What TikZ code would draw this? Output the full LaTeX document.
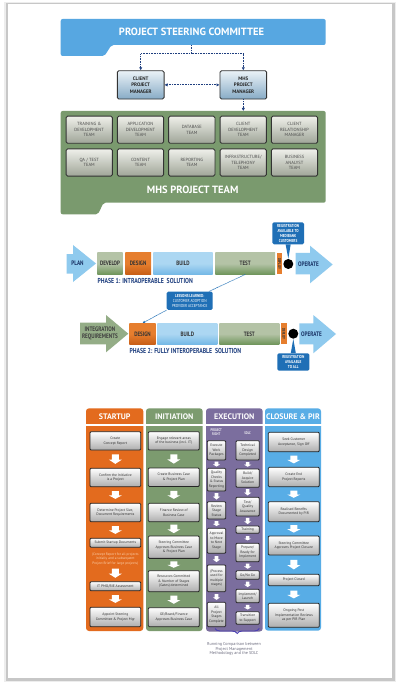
\documentclass[tikz,border=0pt]{standalone}
\usepackage{fontspec}
\setmainfont{PT Sans}
\newfontfamily\condf[FakeStretch=0.8]{PT Sans}
\usetikzlibrary{calc,arrows.meta,decorations.pathreplacing}
\newcommand\fsz[2]{\fontsize{#1}{#2}\selectfont}
\definecolor{steer}{HTML}{57A7E1}
\definecolor{navy}{HTML}{1F3F7F}
\definecolor{teamg}{HTML}{7A9A6E}
\definecolor{pmtop}{HTML}{EAF2F7}
\definecolor{pmbot}{HTML}{87ABC6}
\definecolor{tmtop}{HTML}{EFF0EA}
\definecolor{tmbot}{HTML}{9FA598}
\definecolor{sageT}{HTML}{B4C3A6}
\definecolor{sageB}{HTML}{6F955B}
\definecolor{orT}{HTML}{E67E2E}
\definecolor{orB}{HTML}{C85E16}
\definecolor{bluT}{HTML}{ACD7F2}
\definecolor{bluB}{HTML}{74B8E6}
\definecolor{arrb}{HTML}{8FCAEE}
\definecolor{arrg}{HTML}{94AD87}
\definecolor{callb}{HTML}{1F6FB6}
\definecolor{startc}{HTML}{E36B1E}
\definecolor{initc}{HTML}{7C9B6F}
\definecolor{execc}{HTML}{7B6E9E}
\definecolor{closc}{HTML}{58ADE6}
\definecolor{bracec}{HTML}{4B3FB2}
\definecolor{capc}{HTML}{6E6E80}
\definecolor{notec}{HTML}{FAD0AC}
% white block arrow between two nodes: from, to, half stem, half head, gap
\newcommand\wda[5]{\fill[white] let \p1=(#1.south), \p2=(#2.north),
  \n1={\y1-#5}, \n2={\y2+#5}, \n3={0.45*\n1+0.55*\n2} in
  (\x1-#3,\n1) -- (\x1+#3,\n1) -- (\x1+#3,\n3) -- (\x1+#4,\n3) -- (\x1,\n2)
  -- (\x1-#4,\n3) -- (\x1-#3,\n3) -- cycle;}
\tikzset{
  dotc/.style={draw=navy, line width=1pt, dash pattern=on 0.9pt off 0.7pt},
  title/.style={text=white, font=\bfseries\fsz{10.5}{12}, inner sep=0},
  pmbox/.style={draw=black!80, line width=0.9pt, rounded corners=1.5pt,
    top color=pmtop, bottom color=pmbot, minimum width=46.7pt, minimum height=28.3pt,
    inner sep=0, align=center, font=\bfseries\fsz{5}{6.6}, text=black!85},
  tmbox/.style={draw=black!80, line width=0.9pt, rounded corners=1.5pt,
    top color=tmtop, bottom color=tmbot, minimum width=46.3pt, minimum height=27.2pt,
    inner sep=0, align=center, font=\fsz{4.5}{5.6}, text=black!70},
  seg/.style={inner sep=0, minimum height=21.6pt, font=\condf\bfseries\fsz{6.3}{7}, text=black!80},
  gseg/.style={seg, top color=sageT, bottom color=sageB, middle color=sageT},
  oseg/.style={seg, top color=orT, bottom color=orB, middle color=orT},
  bseg/.style={seg, top color=bluT, bottom color=bluB, middle color=bluT},
  dseg/.style={inner sep=0, fill=orT, font=\condf\bfseries\fsz{4}{4}, text=black!80, rotate=-90},
  dotn/.style={circle, fill=black, minimum size=10pt, inner sep=0},
  arrtxt/.style={inner sep=0, align=center, font=\condf\bfseries\fsz{6.5}{7.2}, text=navy!80!black},
  phlab/.style={anchor=west, inner sep=0, font=\condf\bfseries\fsz{7.2}{8}, text=navy},
  callout/.style={fill=callb, rounded corners=1.5pt, inner sep=0, align=center, text=white,
    font=\condf\bfseries\fsz{4.3}{4.9}},
  lessline/.style={draw=callb, line width=0.6pt, dash pattern=on 0.7pt off 0.5pt},
  colhead/.style={text=white, inner sep=0, font=\bfseries\fsz{8}{9}},
  stepbox/.style={draw=black!85, line width=0.8pt, rounded corners=1pt, top color=white,
    bottom color=black!32, inner sep=0, align=center, font=\fsz{3.6}{4.5}, text=black!80},
  stS/.style={stepbox, minimum width=50.7pt},
  stI/.style={stepbox, minimum width=51pt},
  stE/.style={stepbox, minimum width=18.4pt},
  stD/.style={stepbox, minimum width=23.3pt},
  stC/.style={stepbox, minimum width=51pt},
}
\begin{document}
\begin{tikzpicture}[x=1pt,y=-1pt]
\useasboundingbox (0,0) rectangle (400,700);
% page card
\fill[black!7] (4,2) rectangle (396,682);
\fill[black!22] (5.5,3) rectangle (394.5,680.5);
\fill[white] (7.5,4.5) rectangle (391.5,677.5);

% ---------- steering committee ----------
\fill[steer, rounded corners=2pt] (60.7,19) -- (325.7,19) -- (325.7,45) -- (111.5,45)
  -- (104.5,56) -- (60.7,56) -- cycle;
\node[title, minimum height=26pt] (psc) at (191.5,32) {PROJECT STEERING COMMITTEE};
\coordinate (jn) at (191.5,54);

\node[pmbox] (cpm) at (140.7,84.9) {CLIENT\\PROJECT\\MANAGER};
\node[pmbox] (mpm) at (243.3,84.9) {MHS\\PROJECT\\MANAGER};

% team panel
\fill[teamg, rounded corners=2pt] (60.7,111) -- (325.7,111) -- (325.7,202.7) -- (103.5,202.7)
  -- (98,214.3) -- (60.7,214.3) -- cycle;
\coordinate (tpt) at (243.3,111);

\draw[dotc] (psc.south) -- (jn);
\draw[dotc, -{Latex[length=3pt,width=3.4pt]}] (jn) -| (cpm.north);
\draw[dotc, -{Latex[length=3pt,width=3.4pt]}] (jn) -| (mpm.north);
\draw[dotc, {Latex[length=3pt,width=3.4pt]}-{Latex[length=3pt,width=3.4pt]}] (cpm.east) -- (mpm.west);
\draw[dotc, -{Latex[length=3pt,width=3.4pt]}] (mpm.south) -- (mpm.south |- tpt);

\node[tmbox] (t1) at (89.2,129.7) {TRAINING \&\\DEVELOPMENT\\TEAM};
\node[tmbox] (t2) at (140.5,129.7) {APPLICATION\\DEVELOPMENT\\TEAM};
\node[tmbox] (t3) at (191.8,129.7) {DATABASE\\TEAM};
\node[tmbox] (t4) at (243.2,129.7) {CLIENT\\DEVELOPMENT\\TEAM};
\node[tmbox] (t5) at (294.5,129.7) {CLIENT\\RELATIONSHIP\\MANAGER};
\node[tmbox] (t6) at (89.2,162.5) {QA / TEST\\TEAM};
\node[tmbox] (t7) at (140.5,162.5) {CONTENT\\TEAM};
\node[tmbox] (t8) at (191.8,162.5) {REPORTING\\TEAM};
\node[tmbox] (t9) at (243.2,162.5) {INFRASTRUCTURE/\\TELEPHONY\\TEAM};
\node[tmbox] (t10) at (294.5,162.5) {BUSINESS\\ANALYST\\TEAM};
\node[title] (mpt) at (192.7,190) {MHS PROJECT TEAM};

% ---------- phase 1 ----------
\fill[arrb] (66.7,254) -- (73,254) -- (73,245) -- (96,263.5) -- (73,282) -- (73,273.5)
  -- (66.7,273.5) -- cycle;
\node[arrtxt] (plan) at (77.5,263.5) {PLAN};
\node[gseg, minimum width=25.4pt] (dev1) at (110,263.5) {DEVELOP};
\node[oseg, minimum width=25.7pt] (des1) at (138.15,263.5) {DESIGN};
\node[bseg, minimum width=59.4pt] (bld1) at (183,263.5) {BUILD};
\node[gseg, minimum width=59.7pt] (tst1) at (245.15,263.5) {TEST};
\node[dseg, minimum width=21.6pt, minimum height=5.6pt] (dep1) at (279.5,263.5) {DEPLOY};
\node[dotn] (dot1) at (288.3,264) {};
\fill[arrb] (295.7,253) -- (310,253) -- (310,245.7) -- (332.7,264.5) -- (310,283.3)
  -- (310,274.3) -- (295.7,274.3) -- cycle;
\node[arrtxt] (op1) at (308.5,264) {OPERATE};
\node[phlab] (ph1) at (97.3,281) {PHASE 1: INTRAOPERABLE\ \ SOLUTION};
\node[callout, minimum width=31.7pt, minimum height=22pt] (reg1) at (288.15,233.3)
  {REGISTRATION\\AVAILABLE TO\\MEDIBANK\\CUSTOMERS};
\fill[callb] ($(reg1.south)+(-2.5,0)$) -- ($(reg1.south)+(2.5,0)$) -- (dot1.north) -- cycle;

\node[callout, minimum width=46pt, minimum height=18.3pt, font=\condf\fsz{4.3}{4.9}] (les) at (189.7,300.8)
  {\bfseries LESSONS LEARNED:\\CUSTOMER ADOPTION\\PROVIDER ACCEPTANCE};

% ---------- phase 2 ----------
\fill[arrg] (80,322.7) -- (106,322.7) -- (106,315) -- (128.3,333.7) -- (106,352.3)
  -- (106,344.3) -- (80,344.3) -- cycle;
\node[arrtxt, text=black!75] (intr) at (100,333.5) {INTEGRATION\\REQUIREMENTS};
\node[oseg, minimum width=26.4pt, minimum height=21pt] (des2) at (142.5,333.8) {DESIGN};
\node[bseg, minimum width=60pt, minimum height=21pt] (bld2) at (187.3,333.8) {BUILD};
\node[gseg, minimum width=60pt, minimum height=21pt] (tst2) at (249.3,333.8) {TEST};
\node[dseg, minimum width=21pt, minimum height=5.7pt] (dep2) at (283.85,333.8) {DEPLOY};
\node[dotn] (dot2) at (293.3,333.7) {};
\fill[arrb] (299.3,323.3) -- (313.3,323.3) -- (313.3,315) -- (336,334) -- (313.3,353.3)
  -- (313.3,344.3) -- (299.3,344.3) -- cycle;
\node[arrtxt] (op2) at (311.5,334) {OPERATE};
\node[phlab] (ph2) at (129.3,351) {PHASE 2: FULLY INTEROPERABLE\ \ SOLUTION};
\node[callout, minimum width=32pt, minimum height=17.4pt] (reg2) at (293.3,362)
  {REGISTRATION\\AVAILABLE\\TO ALL};
\fill[callb] ($(reg2.north)+(-2.5,0)$) -- ($(reg2.north)+(2.5,0)$) -- (dot2.south) -- cycle;

\draw[lessline] (tst1.south) -- ($(les.north east)+(-4,0)$);
\draw[lessline, -{Latex[length=2.6pt,width=2.8pt]}] (les.south west) -- (des2.north);

% ---------- lifecycle columns ----------
\fill[startc, rounded corners=3pt] (86,408.3) rectangle (143.3,631);
\fill[initc, rounded corners=3pt] (146,408.3) rectangle (202.7,631);
\fill[execc, rounded corners=3pt] (206,408.3) rectangle (262.7,631.5);
\fill[closc, rounded corners=3pt] (265,408.3) rectangle (321,630.7);
\draw[white, line width=1.3pt] (84,425) -- (323,425);
\node[colhead] (hS) at (114.7,416.3) {STARTUP};
\node[colhead] (hI) at (174.3,416.3) {INITIATION};
\node[colhead] (hE) at (234.3,416.3) {EXECUTION};
\node[colhead] (hC) at (293,416.3) {CLOSURE \& PIR};
\node[inner sep=0, align=center, text=white!85!execc, font=\condf\bfseries\fsz{3.8}{4.2}] (hPR) at (216.3,432.5) {PROJECT\\RIGHT};
\node[inner sep=0, text=white!85!execc, font=\condf\bfseries\fsz{3.8}{4.2}] (hSD) at (247.6,433) {SDLC};

% startup
\node[stS, minimum height=18.3pt] (s1) at (115.35,440.85) {Create\\Concept Report};
\node[stS, minimum height=18.4pt] (s2) at (115.35,477.5) {Confirm the Initiative\\is a Project};
\node[stS, minimum height=18.4pt] (s3) at (115.35,512.5) {Determine Project Size,\\Document Requirements};
\node[stS, minimum height=9pt] (s4) at (115.35,542.8) {Submit Startup Documents};
\node[inner sep=0, align=center, text=notec, font=\fsz{3.5}{4.3}] (snote) at (115.3,559)
  {(Concept Report for all projects\\initially and a subsequent\\Project Brief for large projects)};
\node[stS, minimum height=9pt] (s5) at (115.35,586.2) {IT PMO/BIE Assessment};
\node[stS, minimum height=19.4pt] (s6) at (115.35,617) {Appoint Steering\\Committee \& Project Mgr};
\wda{s1}{s2}{3.5pt}{6.5pt}{4pt}
\wda{s2}{s3}{3.5pt}{6.5pt}{4pt}
\wda{s3}{s4}{3.5pt}{6.5pt}{4pt}
\wda{snote}{s5}{3.5pt}{6.5pt}{3.5pt}
\wda{s5}{s6}{3.5pt}{6.5pt}{4pt}

% initiation
\node[stI, minimum height=18.3pt] (i1) at (173.8,440.85) {Engage relevant areas\\of the business (incl. IT)};
\node[stI, minimum height=18.4pt] (i2) at (173.8,477.2) {Create Business Case\\\& Project Plan};
\node[stI, minimum height=18.4pt] (i3) at (173.8,512.5) {Finance Review of\\Business Case};
\node[stI, minimum height=22.3pt] (i4) at (173.8,547.2) {Steering Committee\\Approves Business Case\\\& Project Plan};
\node[stI, minimum height=21pt] (i5) at (173.8,581.2) {Resources Committed\\\& Number of Stages\\(Gates) determined};
\node[stI, minimum height=19pt] (i6) at (173.8,617.2) {GE/Board/Finance\\Approves Business Case};
\wda{i1}{i2}{3.5pt}{6.5pt}{4pt}
\wda{i2}{i3}{3.5pt}{6.5pt}{4pt}
\wda{i3}{i4}{3.5pt}{6.5pt}{2.5pt}
\wda{i4}{i5}{3.5pt}{6.5pt}{2.5pt}
\wda{i5}{i6}{3.5pt}{6.5pt}{3.5pt}

% execution - project
\node[stE, minimum height=19.3pt] (e1) at (216.5,450.35) {Execute\\Work\\Packages};
\node[stE, minimum height=22.7pt] (e2) at (216.5,479.65) {Quality\\Checks\\\& Status\\Reporting};
\node[stE, minimum height=17.3pt] (e3) at (216.5,510.35) {Review\\Stage\\Status};
\node[stE, minimum height=25pt] (e4) at (216.5,540.8) {Approval\\to Move\\to Next\\Stage};
\node[stE, minimum height=26.7pt] (e5) at (216.5,578.35) {(Process\\used for\\multiple\\stages)};
\node[stE, minimum height=24.4pt] (e6) at (216.5,614.5) {All\\Project\\Stages\\Complete};
\wda{e1}{e2}{1.8pt}{3.6pt}{1.3pt}
\wda{e2}{e3}{1.8pt}{3.6pt}{1.8pt}
\wda{e3}{e4}{1.8pt}{3.6pt}{1.8pt}
\wda{e4}{e5}{1.8pt}{3.6pt}{2.5pt}
\wda{e5}{e6}{1.8pt}{3.6pt}{2pt}

% execution - sdlc
\node[stD, minimum height=19.3pt] (d1) at (247.65,450.35) {Technical\\Design\\Completed};
\node[stD, minimum height=18.3pt] (d2) at (247.65,478.15) {Build/\\Acquire\\Solution};
\node[stD, minimum height=18.7pt] (d3) at (247.65,506.65) {Test/\\Quality\\Assurance};
\node[stD, minimum height=7.3pt] (d4) at (247.65,529.65) {Training};
\node[stD, minimum height=18.4pt] (d5) at (247.65,552.5) {Prepare/\\Ready for\\Implement};
\node[stD, minimum height=8.6pt] (d6) at (247.65,575) {Go/No Go};
\node[stD, minimum height=13.4pt] (d7) at (247.65,596) {Implement/\\Launch};
\node[stD, minimum height=12.6pt] (d8) at (247.65,618) {Transition\\to Support};
\wda{d1}{d2}{1.8pt}{3.6pt}{1.8pt}
\wda{d2}{d3}{1.8pt}{3.6pt}{1.5pt}
\wda{d3}{d4}{1.8pt}{3.6pt}{1.5pt}
\wda{d4}{d5}{1.8pt}{3.6pt}{2.5pt}
\wda{d5}{d6}{1.8pt}{3.6pt}{1.5pt}
\wda{d6}{d7}{1.8pt}{3.6pt}{1.8pt}
\wda{d7}{d8}{1.8pt}{3.6pt}{1.8pt}

% closure
\node[stC, minimum height=19.4pt] (c1) at (293.8,442) {Seek Customer\\Acceptance, Sign Off};
\node[stC, minimum height=19.4pt] (c2) at (293.8,477) {Create End\\Project Reports};
\node[stC, minimum height=20pt] (c3) at (293.8,511.7) {Realised Benefits\\Documented by PIR};
\node[stC, minimum height=19pt] (c4) at (293.8,545.5) {Steering Committee\\Approves Project Closure};
\node[stC, minimum height=11.4pt] (c5) at (293.8,580) {Project Closed};
\node[stC, minimum height=24pt] (c6) at (293.8,615.3) {Ongoing Post\\Implementation Reviews\\as per PIR Plan};
\wda{c1}{c2}{3.5pt}{6.5pt}{3.5pt}
\wda{c2}{c3}{3.5pt}{6.5pt}{3.5pt}
\wda{c3}{c4}{3.5pt}{6.5pt}{3pt}
\wda{c4}{c5}{3.5pt}{6.5pt}{4.5pt}
\wda{c5}{c6}{3.5pt}{6.5pt}{4.5pt}

% brace and caption
\draw[bracec, line width=0.9pt, decorate, decoration={brace, mirror, amplitude=5pt}]
  (215,628.5) -- (259.3,628.5);
\node[inner sep=0, align=center, text=capc, font=\fsz{4.2}{4.9}] (cap) at (234,649)
  {Running Comparison between\\Project Management\\Methodology and the SDLC};
\end{tikzpicture}
\end{document}
